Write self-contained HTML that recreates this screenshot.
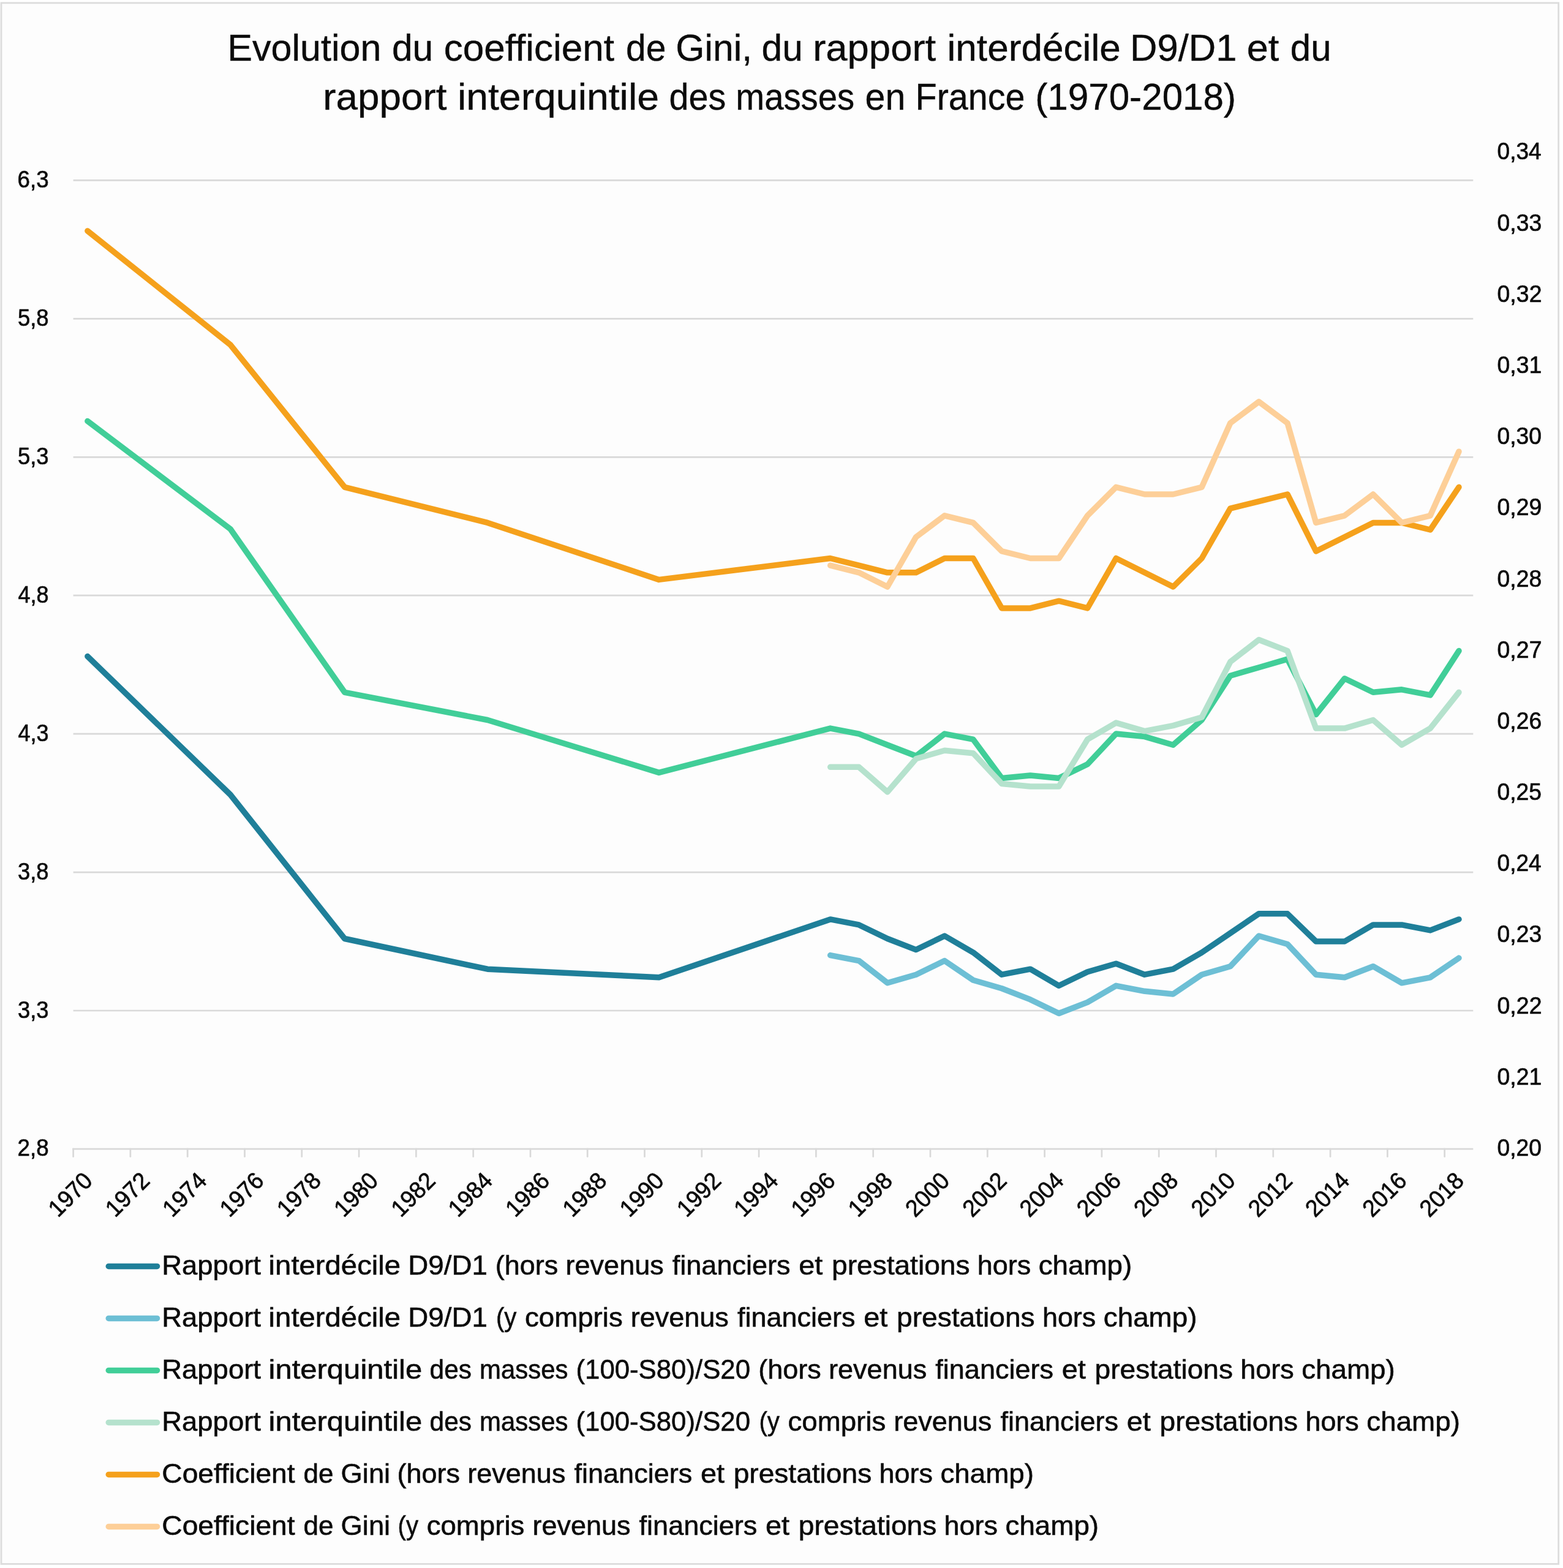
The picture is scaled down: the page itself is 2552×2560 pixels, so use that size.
<!DOCTYPE html>
<html lang="fr"><head><meta charset="utf-8">
<title>Evolution du coefficient de Gini, du rapport interdécile D9/D1 et du rapport interquintile des masses en France (1970-2018)</title>
<style>
html,body{margin:0;padding:0;background:#ffffff;}
body{width:2552px;height:2560px;}
svg{display:block;}
text{font-family:"Liberation Sans",sans-serif;fill:#0b0b0b;}
.title{font-size:60.2px;stroke:#0b0b0b;stroke-width:0.4px;}
.leg{font-size:45.2px;stroke:#0b0b0b;stroke-width:0.6px;}
.ax{font-size:38.7px;stroke:#0b0b0b;stroke-width:0.7px;}
.grid line{stroke:#d9d9d9;stroke-width:2.7;}
.ticks line{stroke:#d9d9d9;stroke-width:2.7;stroke-linecap:round;}
.ser polyline{fill:none;stroke-width:9.5;stroke-linecap:round;stroke-linejoin:round;}
.key line{stroke-width:9.5;stroke-linecap:round;}
</style></head><body>
<svg width="2552" height="2560" viewBox="0 0 2552 2560">
<rect x="0" y="0" width="2552" height="2560" fill="#ffffff"/>
<defs><filter id="soft" filterUnits="userSpaceOnUse" x="0" y="0" width="2552" height="2560" color-interpolation-filters="sRGB"><feGaussianBlur stdDeviation="0.4"/></filter></defs>
<g filter="url(#soft)">
<rect x="2" y="4.8" width="2542.7" height="2548.6" fill="#fdfdfd" stroke="#dcdcdc" stroke-width="2.8"/>
<g class="title">
<text y="98.6"><tspan x="371.3" textLength="251.2" lengthAdjust="spacingAndGlyphs">Evolution</tspan> <tspan x="639.9" textLength="67.4" lengthAdjust="spacingAndGlyphs">du</tspan> <tspan x="724.7" textLength="278.4" lengthAdjust="spacingAndGlyphs">coefficient</tspan> <tspan x="1022.1" textLength="65.5" lengthAdjust="spacingAndGlyphs">de</tspan> <tspan x="1103.3" textLength="124.7" lengthAdjust="spacingAndGlyphs">Gini,</tspan> <tspan x="1243.5" textLength="67.3" lengthAdjust="spacingAndGlyphs">du</tspan> <tspan x="1327.2" textLength="201.0" lengthAdjust="spacingAndGlyphs">rapport</tspan> <tspan x="1546.5" textLength="283.3" lengthAdjust="spacingAndGlyphs">interdécile</tspan> <tspan x="1845.0" textLength="174.4" lengthAdjust="spacingAndGlyphs">D9/D1</tspan> <tspan x="2035.8" textLength="52.6" lengthAdjust="spacingAndGlyphs">et</tspan> <tspan x="2106.8" textLength="66.7" lengthAdjust="spacingAndGlyphs">du</tspan></text>
<text y="179"><tspan x="527.3" textLength="202.1" lengthAdjust="spacingAndGlyphs">rapport</tspan> <tspan x="746.9" textLength="329.1" lengthAdjust="spacingAndGlyphs">interquintile</tspan> <tspan x="1092.4" textLength="92.8" lengthAdjust="spacingAndGlyphs">des</tspan> <tspan x="1201.3" textLength="193.8" lengthAdjust="spacingAndGlyphs">masses</tspan> <tspan x="1412.6" textLength="65.8" lengthAdjust="spacingAndGlyphs">en</tspan> <tspan x="1494.5" textLength="179.0" lengthAdjust="spacingAndGlyphs">France</tspan> <tspan x="1690.2" textLength="327.9" lengthAdjust="spacingAndGlyphs">(1970-2018)</tspan></text>
</g>
<g class="grid">
<line x1="118.3" y1="1875.9" x2="2405.3" y2="1875.9"/>
<line x1="119.6" y1="1650.0" x2="2405.3" y2="1650.0"/>
<line x1="119.6" y1="1424.1" x2="2405.3" y2="1424.1"/>
<line x1="119.6" y1="1198.1" x2="2405.3" y2="1198.1"/>
<line x1="119.6" y1="972.2" x2="2405.3" y2="972.2"/>
<line x1="119.6" y1="746.3" x2="2405.3" y2="746.3"/>
<line x1="119.6" y1="520.3" x2="2405.3" y2="520.3"/>
<line x1="119.6" y1="294.4" x2="2405.3" y2="294.4"/>
</g>
<g class="ticks">
<line x1="119.6" y1="1875.9" x2="119.6" y2="1888.3"/>
<line x1="212.9" y1="1875.9" x2="212.9" y2="1888.3"/>
<line x1="306.2" y1="1875.9" x2="306.2" y2="1888.3"/>
<line x1="399.5" y1="1875.9" x2="399.5" y2="1888.3"/>
<line x1="492.8" y1="1875.9" x2="492.8" y2="1888.3"/>
<line x1="586.1" y1="1875.9" x2="586.1" y2="1888.3"/>
<line x1="679.4" y1="1875.9" x2="679.4" y2="1888.3"/>
<line x1="772.7" y1="1875.9" x2="772.7" y2="1888.3"/>
<line x1="866.0" y1="1875.9" x2="866.0" y2="1888.3"/>
<line x1="959.2" y1="1875.9" x2="959.2" y2="1888.3"/>
<line x1="1052.5" y1="1875.9" x2="1052.5" y2="1888.3"/>
<line x1="1145.8" y1="1875.9" x2="1145.8" y2="1888.3"/>
<line x1="1239.1" y1="1875.9" x2="1239.1" y2="1888.3"/>
<line x1="1332.4" y1="1875.9" x2="1332.4" y2="1888.3"/>
<line x1="1425.7" y1="1875.9" x2="1425.7" y2="1888.3"/>
<line x1="1519.0" y1="1875.9" x2="1519.0" y2="1888.3"/>
<line x1="1612.3" y1="1875.9" x2="1612.3" y2="1888.3"/>
<line x1="1705.6" y1="1875.9" x2="1705.6" y2="1888.3"/>
<line x1="1798.9" y1="1875.9" x2="1798.9" y2="1888.3"/>
<line x1="1892.2" y1="1875.9" x2="1892.2" y2="1888.3"/>
<line x1="1985.5" y1="1875.9" x2="1985.5" y2="1888.3"/>
<line x1="2078.8" y1="1875.9" x2="2078.8" y2="1888.3"/>
<line x1="2172.1" y1="1875.9" x2="2172.1" y2="1888.3"/>
<line x1="2265.4" y1="1875.9" x2="2265.4" y2="1888.3"/>
<line x1="2358.7" y1="1875.9" x2="2358.7" y2="1888.3"/>
</g>
<g class="ax">
<text x="28.5" y="1887.4" textLength="51.1" lengthAdjust="spacingAndGlyphs">2,8</text>
<text x="29.0" y="1661.5" textLength="50.6" lengthAdjust="spacingAndGlyphs">3,3</text>
<text x="29.0" y="1435.6" textLength="50.6" lengthAdjust="spacingAndGlyphs">3,8</text>
<text x="29.6" y="1209.6" textLength="50.0" lengthAdjust="spacingAndGlyphs">4,3</text>
<text x="29.6" y="983.7" textLength="50.0" lengthAdjust="spacingAndGlyphs">4,8</text>
<text x="28.9" y="757.8" textLength="50.7" lengthAdjust="spacingAndGlyphs">5,3</text>
<text x="28.9" y="531.8" textLength="50.7" lengthAdjust="spacingAndGlyphs">5,8</text>
<text x="28.5" y="305.9" textLength="51.1" lengthAdjust="spacingAndGlyphs">6,3</text>
<text x="2444.5" y="1887.0" textLength="72.5" lengthAdjust="spacingAndGlyphs">0,20</text>
<text x="2444.5" y="1770.8" textLength="72.9" lengthAdjust="spacingAndGlyphs">0,21</text>
<text x="2444.5" y="1654.6" textLength="73.0" lengthAdjust="spacingAndGlyphs">0,22</text>
<text x="2444.5" y="1538.4" textLength="72.7" lengthAdjust="spacingAndGlyphs">0,23</text>
<text x="2444.6" y="1422.2" textLength="72.1" lengthAdjust="spacingAndGlyphs">0,24</text>
<text x="2444.5" y="1306.1" textLength="72.6" lengthAdjust="spacingAndGlyphs">0,25</text>
<text x="2444.5" y="1189.9" textLength="72.7" lengthAdjust="spacingAndGlyphs">0,26</text>
<text x="2444.5" y="1073.7" textLength="73.0" lengthAdjust="spacingAndGlyphs">0,27</text>
<text x="2444.5" y="957.5" textLength="72.7" lengthAdjust="spacingAndGlyphs">0,28</text>
<text x="2444.5" y="841.3" textLength="72.8" lengthAdjust="spacingAndGlyphs">0,29</text>
<text x="2444.5" y="725.1" textLength="72.5" lengthAdjust="spacingAndGlyphs">0,30</text>
<text x="2444.5" y="608.9" textLength="72.9" lengthAdjust="spacingAndGlyphs">0,31</text>
<text x="2444.5" y="492.7" textLength="73.0" lengthAdjust="spacingAndGlyphs">0,32</text>
<text x="2444.5" y="376.5" textLength="72.7" lengthAdjust="spacingAndGlyphs">0,33</text>
<text x="2444.6" y="260.3" textLength="72.1" lengthAdjust="spacingAndGlyphs">0,34</text>
<text transform="translate(144.4 1920.5) rotate(-45)" x="-83.3" y="13.1" textLength="82.7" lengthAdjust="spacingAndGlyphs">1970</text>
<text transform="translate(237.7 1920.5) rotate(-45)" x="-83.3" y="13.1" textLength="82.7" lengthAdjust="spacingAndGlyphs">1972</text>
<text transform="translate(331.0 1920.5) rotate(-45)" x="-83.3" y="13.1" textLength="82.7" lengthAdjust="spacingAndGlyphs">1974</text>
<text transform="translate(424.3 1920.5) rotate(-45)" x="-83.3" y="13.1" textLength="82.7" lengthAdjust="spacingAndGlyphs">1976</text>
<text transform="translate(517.6 1920.5) rotate(-45)" x="-83.3" y="13.1" textLength="82.7" lengthAdjust="spacingAndGlyphs">1978</text>
<text transform="translate(610.9 1920.5) rotate(-45)" x="-83.3" y="13.1" textLength="82.7" lengthAdjust="spacingAndGlyphs">1980</text>
<text transform="translate(704.2 1920.5) rotate(-45)" x="-83.3" y="13.1" textLength="82.7" lengthAdjust="spacingAndGlyphs">1982</text>
<text transform="translate(797.5 1920.5) rotate(-45)" x="-83.3" y="13.1" textLength="82.7" lengthAdjust="spacingAndGlyphs">1984</text>
<text transform="translate(890.8 1920.5) rotate(-45)" x="-83.3" y="13.1" textLength="82.7" lengthAdjust="spacingAndGlyphs">1986</text>
<text transform="translate(984.1 1920.5) rotate(-45)" x="-83.3" y="13.1" textLength="82.7" lengthAdjust="spacingAndGlyphs">1988</text>
<text transform="translate(1077.4 1920.5) rotate(-45)" x="-83.3" y="13.1" textLength="82.7" lengthAdjust="spacingAndGlyphs">1990</text>
<text transform="translate(1170.7 1920.5) rotate(-45)" x="-83.3" y="13.1" textLength="82.7" lengthAdjust="spacingAndGlyphs">1992</text>
<text transform="translate(1264.0 1920.5) rotate(-45)" x="-83.3" y="13.1" textLength="82.7" lengthAdjust="spacingAndGlyphs">1994</text>
<text transform="translate(1357.2 1920.5) rotate(-45)" x="-83.3" y="13.1" textLength="82.7" lengthAdjust="spacingAndGlyphs">1996</text>
<text transform="translate(1450.5 1920.5) rotate(-45)" x="-83.3" y="13.1" textLength="82.7" lengthAdjust="spacingAndGlyphs">1998</text>
<text transform="translate(1543.8 1920.5) rotate(-45)" x="-83.3" y="13.1" textLength="82.7" lengthAdjust="spacingAndGlyphs">2000</text>
<text transform="translate(1637.1 1920.5) rotate(-45)" x="-83.3" y="13.1" textLength="82.7" lengthAdjust="spacingAndGlyphs">2002</text>
<text transform="translate(1730.4 1920.5) rotate(-45)" x="-83.3" y="13.1" textLength="82.7" lengthAdjust="spacingAndGlyphs">2004</text>
<text transform="translate(1823.7 1920.5) rotate(-45)" x="-83.3" y="13.1" textLength="82.7" lengthAdjust="spacingAndGlyphs">2006</text>
<text transform="translate(1917.0 1920.5) rotate(-45)" x="-83.3" y="13.1" textLength="82.7" lengthAdjust="spacingAndGlyphs">2008</text>
<text transform="translate(2010.3 1920.5) rotate(-45)" x="-83.3" y="13.1" textLength="82.7" lengthAdjust="spacingAndGlyphs">2010</text>
<text transform="translate(2103.6 1920.5) rotate(-45)" x="-83.3" y="13.1" textLength="82.7" lengthAdjust="spacingAndGlyphs">2012</text>
<text transform="translate(2196.9 1920.5) rotate(-45)" x="-83.3" y="13.1" textLength="82.7" lengthAdjust="spacingAndGlyphs">2014</text>
<text transform="translate(2290.2 1920.5) rotate(-45)" x="-83.3" y="13.1" textLength="82.7" lengthAdjust="spacingAndGlyphs">2016</text>
<text transform="translate(2383.5 1920.5) rotate(-45)" x="-83.3" y="13.1" textLength="82.7" lengthAdjust="spacingAndGlyphs">2018</text>
</g>
<g class="ser">
<polyline stroke="#1f7f99" points="142.9,1071.6 376.2,1297.5 562.7,1532.5 796.0,1582.2 1075.9,1595.8 1355.7,1500.9 1402.4,1509.9 1449.0,1532.5 1495.7,1550.6 1542.3,1528.0 1589.0,1555.1 1635.6,1591.2 1682.3,1582.2 1728.9,1609.3 1775.6,1586.7 1822.2,1573.2 1868.9,1591.2 1915.5,1582.2 1962.2,1555.1 2008.8,1523.5 2055.4,1491.8 2102.1,1491.8 2148.7,1537.0 2195.4,1537.0 2242.0,1509.9 2288.7,1509.9 2335.3,1518.9 2382.0,1500.9"/>
<polyline stroke="#6dbfd5" points="1355.7,1559.6 1402.4,1568.6 1449.0,1604.8 1495.7,1591.2 1542.3,1568.6 1589.0,1600.3 1635.6,1613.8 1682.3,1631.9 1728.9,1654.5 1775.6,1636.4 1822.2,1609.3 1868.9,1618.3 1915.5,1622.9 1962.2,1591.2 2008.8,1577.7 2055.4,1528.0 2102.1,1541.5 2148.7,1591.2 2195.4,1595.8 2242.0,1577.7 2288.7,1604.8 2335.3,1595.8 2382.0,1564.1"/>
<polyline stroke="#41ce98" points="142.9,687.5 376.2,863.8 562.7,1130.3 796.0,1175.5 1075.9,1261.4 1355.7,1189.1 1402.4,1198.1 1449.0,1216.2 1495.7,1234.3 1542.3,1198.1 1589.0,1207.2 1635.6,1270.4 1682.3,1265.9 1728.9,1270.4 1775.6,1247.8 1822.2,1198.1 1868.9,1202.6 1915.5,1216.2 1962.2,1175.5 2008.8,1103.2 2055.4,1089.7 2102.1,1076.1 2148.7,1166.5 2195.4,1107.8 2242.0,1130.3 2288.7,1125.8 2335.3,1134.9 2382.0,1062.6"/>
<polyline stroke="#b5e2cd" points="1355.7,1252.3 1402.4,1252.3 1449.0,1293.0 1495.7,1238.8 1542.3,1225.2 1589.0,1229.8 1635.6,1279.5 1682.3,1284.0 1728.9,1284.0 1775.6,1207.2 1822.2,1180.1 1868.9,1193.6 1915.5,1184.6 1962.2,1171.0 2008.8,1080.6 2055.4,1044.5 2102.1,1062.6 2148.7,1189.1 2195.4,1189.1 2242.0,1175.5 2288.7,1216.2 2335.3,1189.1 2382.0,1130.3"/>
<polyline stroke="#f5a11c" points="142.9,377.0 376.2,563.0 562.7,795.3 796.0,853.4 1075.9,946.4 1355.7,911.5 1402.4,923.1 1449.0,934.8 1495.7,934.8 1542.3,911.5 1589.0,911.5 1635.6,992.9 1682.3,992.9 1728.9,981.2 1775.6,992.9 1822.2,911.5 1868.9,934.8 1915.5,958.0 1962.2,911.5 2008.8,830.2 2055.4,818.6 2102.1,807.0 2148.7,899.9 2195.4,876.7 2242.0,853.4 2288.7,853.4 2335.3,865.0 2382.0,795.3"/>
<polyline stroke="#fdcf98" points="1355.7,923.1 1402.4,934.8 1449.0,958.0 1495.7,876.7 1542.3,841.8 1589.0,853.4 1635.6,899.9 1682.3,911.5 1728.9,911.5 1775.6,841.8 1822.2,795.3 1868.9,807.0 1915.5,807.0 1962.2,795.3 2008.8,690.8 2055.4,655.9 2102.1,690.8 2148.7,853.4 2195.4,841.8 2242.0,807.0 2288.7,853.4 2335.3,841.8 2382.0,737.2"/>
</g>
<g class="key">
<line x1="177.3" y1="2067.4" x2="256.5" y2="2067.4" stroke="#1f7f99"/>
<line x1="177.3" y1="2152.4" x2="256.5" y2="2152.4" stroke="#6dbfd5"/>
<line x1="177.3" y1="2237.4" x2="256.5" y2="2237.4" stroke="#41ce98"/>
<line x1="177.3" y1="2322.4" x2="256.5" y2="2322.4" stroke="#b5e2cd"/>
<line x1="177.3" y1="2407.4" x2="256.5" y2="2407.4" stroke="#f5a11c"/>
<line x1="177.3" y1="2492.4" x2="256.5" y2="2492.4" stroke="#fdcf98"/>
</g>
<g class="leg">
<text y="2081.0"><tspan x="264.3" textLength="161.6" lengthAdjust="spacingAndGlyphs">Rapport</tspan> <tspan x="438.6" textLength="215.5" lengthAdjust="spacingAndGlyphs">interdécile</tspan> <tspan x="666.3" textLength="129.6" lengthAdjust="spacingAndGlyphs">D9/D1</tspan> <tspan x="808.8" textLength="102.5" lengthAdjust="spacingAndGlyphs">(hors</tspan> <tspan x="923.6" textLength="160.1" lengthAdjust="spacingAndGlyphs">revenus</tspan> <tspan x="1097.8" textLength="192.7" lengthAdjust="spacingAndGlyphs">financiers</tspan> <tspan x="1304.2" textLength="39.1" lengthAdjust="spacingAndGlyphs">et</tspan> <tspan x="1358.0" textLength="225.5" lengthAdjust="spacingAndGlyphs">prestations</tspan> <tspan x="1595.8" textLength="87.4" lengthAdjust="spacingAndGlyphs">hors</tspan> <tspan x="1695.7" textLength="152.6" lengthAdjust="spacingAndGlyphs">champ)</tspan></text>
<text y="2166.0"><tspan x="264.3" textLength="161.6" lengthAdjust="spacingAndGlyphs">Rapport</tspan> <tspan x="438.6" textLength="215.5" lengthAdjust="spacingAndGlyphs">interdécile</tspan> <tspan x="666.3" textLength="129.6" lengthAdjust="spacingAndGlyphs">D9/D1</tspan> <tspan x="809.9" textLength="33.5" lengthAdjust="spacingAndGlyphs">(y</tspan> <tspan x="857.0" textLength="159.7" lengthAdjust="spacingAndGlyphs">compris</tspan> <tspan x="1029.7" textLength="160.1" lengthAdjust="spacingAndGlyphs">revenus</tspan> <tspan x="1203.9" textLength="192.7" lengthAdjust="spacingAndGlyphs">financiers</tspan> <tspan x="1410.3" textLength="39.1" lengthAdjust="spacingAndGlyphs">et</tspan> <tspan x="1464.1" textLength="225.5" lengthAdjust="spacingAndGlyphs">prestations</tspan> <tspan x="1701.9" textLength="87.4" lengthAdjust="spacingAndGlyphs">hors</tspan> <tspan x="1801.8" textLength="152.6" lengthAdjust="spacingAndGlyphs">champ)</tspan></text>
<text y="2251.0"><tspan x="264.3" textLength="161.6" lengthAdjust="spacingAndGlyphs">Rapport</tspan> <tspan x="438.5" textLength="250.7" lengthAdjust="spacingAndGlyphs">interquintile</tspan> <tspan x="701.6" textLength="68.3" lengthAdjust="spacingAndGlyphs">des</tspan> <tspan x="783.0" textLength="144.4" lengthAdjust="spacingAndGlyphs">masses</tspan> <tspan x="940.5" textLength="284.5" lengthAdjust="spacingAndGlyphs">(100-S80)/S20</tspan> <tspan x="1238.3" textLength="102.5" lengthAdjust="spacingAndGlyphs">(hors</tspan> <tspan x="1353.1" textLength="160.1" lengthAdjust="spacingAndGlyphs">revenus</tspan> <tspan x="1527.3" textLength="192.7" lengthAdjust="spacingAndGlyphs">financiers</tspan> <tspan x="1733.7" textLength="39.1" lengthAdjust="spacingAndGlyphs">et</tspan> <tspan x="1787.5" textLength="225.5" lengthAdjust="spacingAndGlyphs">prestations</tspan> <tspan x="2025.3" textLength="87.4" lengthAdjust="spacingAndGlyphs">hors</tspan> <tspan x="2125.2" textLength="152.6" lengthAdjust="spacingAndGlyphs">champ)</tspan></text>
<text y="2336.0"><tspan x="264.3" textLength="161.6" lengthAdjust="spacingAndGlyphs">Rapport</tspan> <tspan x="438.5" textLength="250.7" lengthAdjust="spacingAndGlyphs">interquintile</tspan> <tspan x="701.6" textLength="68.3" lengthAdjust="spacingAndGlyphs">des</tspan> <tspan x="783.0" textLength="144.4" lengthAdjust="spacingAndGlyphs">masses</tspan> <tspan x="940.5" textLength="284.5" lengthAdjust="spacingAndGlyphs">(100-S80)/S20</tspan> <tspan x="1239.4" textLength="33.5" lengthAdjust="spacingAndGlyphs">(y</tspan> <tspan x="1286.5" textLength="159.7" lengthAdjust="spacingAndGlyphs">compris</tspan> <tspan x="1459.2" textLength="160.1" lengthAdjust="spacingAndGlyphs">revenus</tspan> <tspan x="1633.4" textLength="192.7" lengthAdjust="spacingAndGlyphs">financiers</tspan> <tspan x="1839.8" textLength="39.1" lengthAdjust="spacingAndGlyphs">et</tspan> <tspan x="1893.6" textLength="225.5" lengthAdjust="spacingAndGlyphs">prestations</tspan> <tspan x="2131.4" textLength="87.4" lengthAdjust="spacingAndGlyphs">hors</tspan> <tspan x="2231.3" textLength="152.6" lengthAdjust="spacingAndGlyphs">champ)</tspan></text>
<text y="2421.0"><tspan x="264.3" textLength="217.3" lengthAdjust="spacingAndGlyphs">Coefficient</tspan> <tspan x="495.4" textLength="49.0" lengthAdjust="spacingAndGlyphs">de</tspan> <tspan x="556.5" textLength="80.7" lengthAdjust="spacingAndGlyphs">Gini</tspan> <tspan x="648.5" textLength="102.5" lengthAdjust="spacingAndGlyphs">(hors</tspan> <tspan x="763.3" textLength="160.1" lengthAdjust="spacingAndGlyphs">revenus</tspan> <tspan x="937.5" textLength="192.7" lengthAdjust="spacingAndGlyphs">financiers</tspan> <tspan x="1143.9" textLength="39.1" lengthAdjust="spacingAndGlyphs">et</tspan> <tspan x="1197.7" textLength="225.5" lengthAdjust="spacingAndGlyphs">prestations</tspan> <tspan x="1435.5" textLength="87.4" lengthAdjust="spacingAndGlyphs">hors</tspan> <tspan x="1535.4" textLength="152.6" lengthAdjust="spacingAndGlyphs">champ)</tspan></text>
<text y="2506.0"><tspan x="264.3" textLength="217.3" lengthAdjust="spacingAndGlyphs">Coefficient</tspan> <tspan x="495.4" textLength="49.0" lengthAdjust="spacingAndGlyphs">de</tspan> <tspan x="556.5" textLength="80.7" lengthAdjust="spacingAndGlyphs">Gini</tspan> <tspan x="649.6" textLength="33.5" lengthAdjust="spacingAndGlyphs">(y</tspan> <tspan x="696.7" textLength="159.7" lengthAdjust="spacingAndGlyphs">compris</tspan> <tspan x="869.4" textLength="160.1" lengthAdjust="spacingAndGlyphs">revenus</tspan> <tspan x="1043.6" textLength="192.7" lengthAdjust="spacingAndGlyphs">financiers</tspan> <tspan x="1250.0" textLength="39.1" lengthAdjust="spacingAndGlyphs">et</tspan> <tspan x="1303.8" textLength="225.5" lengthAdjust="spacingAndGlyphs">prestations</tspan> <tspan x="1541.6" textLength="87.4" lengthAdjust="spacingAndGlyphs">hors</tspan> <tspan x="1641.5" textLength="152.6" lengthAdjust="spacingAndGlyphs">champ)</tspan></text>
</g>
</g>
</svg>
</body></html>
